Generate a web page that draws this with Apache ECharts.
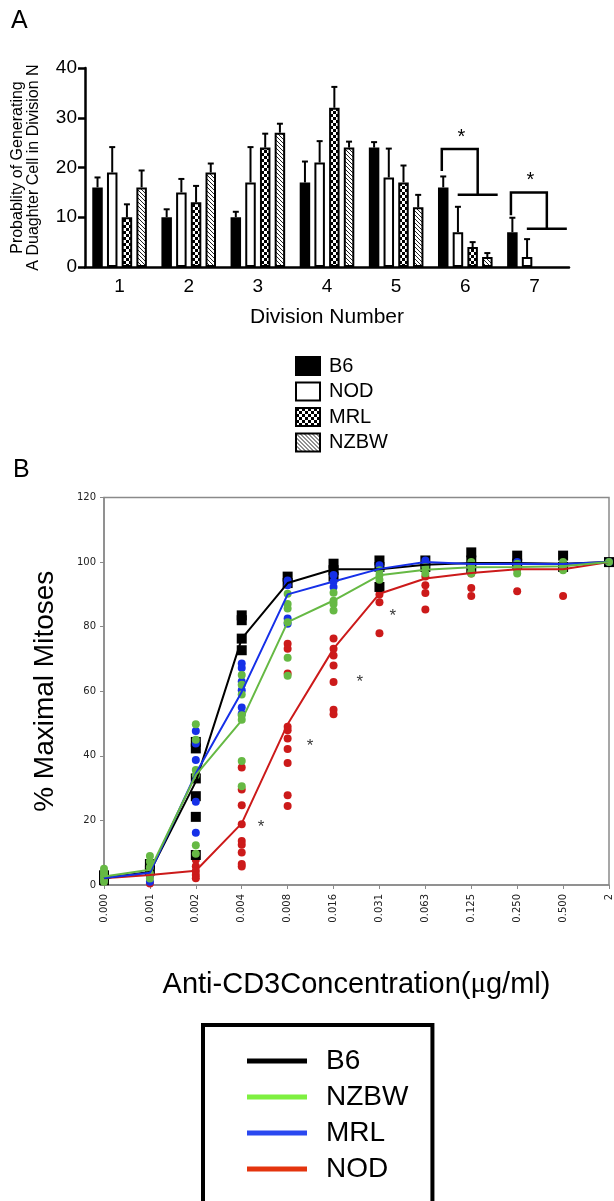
<!DOCTYPE html>
<html>
<head>
<meta charset="utf-8">
<script src="https://cdn.jsdelivr.net/npm/echarts@6/dist/echarts.min.js"></script>
<style>
  html, body { margin: 0; padding: 0; background: #fff; }
  #boxA { position: absolute; left: 0; top: 0; width: 614px; height: 455px; }
  #boxB { position: absolute; left: 0; top: 455px; width: 614px; height: 746px; }
</style>
</head>
<body>
<div id="boxA"></div>
<div id="boxB"></div>
<script>
// ---- panel A data ----
var divisions = ['1', '2', '3', '4', '5', '6', '7'];
var strainsA = ['B6', 'NOD', 'MRL', 'NZBW'];
var meanB6 = [16, 10, 10, 17, 24, 16, 7];
var meanNOD = [19, 15, 17, 21, 18, 7, 2];
var meanMRL = [10, 13, 24, 32, 17, 4, null];
var meanNZBW = [16, 19, 27, 24, 12, 2, null];
// top of the error bars
var errB6 = [18, 11.6, 11.1, 21.2, 25.1, 18.2, 9.9];
var errNOD = [24.1, 17.7, 24.1, 25.3, 23.8, 12.1, 5.6];
var errMRL = [12.6, 16.3, 26.8, 36.2, 20.4, 5.0, null];
var errNZBW = [19.4, 20.8, 28.8, 25.2, 14.5, 2.8, null];
// significance brackets: [division index, left leg start, bracket top, right leg end]
var sigBrackets = [[5, 19.3, 23.7, 14.5], [6, 10.4, 15.0, 7.7]];

// ---- panel B data ----
var concLabels = ['0.000', '0.001', '0.002', '0.004', '0.008', '0.016', '0.031', '0.063', '0.125', '0.250', '0.500', '2'];
var lineB6 = [2.2, 4.0, 32, 76.3, 93.5, 97.8, 97.8, 99.2, 99.7, 99.7, 99.5, 100];
var lineNZBW = [2.6, 4.7, 34, 51, 81.4, 88.1, 95.9, 97.6, 98.4, 98.5, 98.7, 100];
var lineMRL = [2.2, 3.8, 34.5, 59.8, 90, 94, 97.9, 100, 99.4, 99.5, 99.4, 100];
var lineNOD = [2.1, 3.1, 4.4, 19.1, 49.8, 73.2, 90.2, 94.9, 96.6, 97.8, 97.8, 100];
// individual values per concentration
var ptsB6 = [[1.5, 2.5, 3], [4.5, 6.5], [44.3, 42.3, 33, 27.5, 21.1, 9.3], [83.5, 82, 76.3, 72.7],
  [95.5, 93.5], [99.5, 97.5, 95.5], [100.5, 98.5, 92.3], [100.5, 98.5], [103, 100.5, 98],
  [102, 99.5], [102, 98.5], [100]];
var ptsNZBW = [[1, 2, 3, 4, 5], [9, 7.3, 5.5, 3.6, 2], [49.8, 45, 35.6, 34, 12.3, 9.7],
  [65, 62, 59, 52.6, 51.2, 38.4, 30.6], [90.2, 87, 85.6, 81.4, 70.4, 64.8], [90.5, 88, 87, 85],
  [97.5, 96, 94.5], [98.5, 96.5], [100, 98.5, 97, 96.5], [99.5, 98, 96.5], [100, 98.5, 97.5], [100]];
var ptsMRL = [[1.5, 2.5], [1, 3], [47.7, 43.8, 38.7, 25.8, 16.2], [68.6, 67.2, 63, 60.3, 55, 53],
  [94.3, 92.8, 82.5, 80.9], [96, 94, 92.3], [99, 97.5], [100.5, 99], [99.5, 98.5], [100, 99],
  [99.5], [100]];
var ptsNOD = [[1.5, 2.5], [0.5, 3], [7.8, 5.8, 4.3, 3.1, 2.1],
  [36.4, 29.6, 24.7, 18.8, 13.6, 12.5, 10.1, 6.5, 5.7],
  [74.7, 73.2, 65.5, 49, 47.9, 45.4, 42.1, 37.8, 27.8, 24.5],
  [76.3, 73.2, 71.1, 68, 62.9, 54.3, 52.9], [90, 87.6, 78], [95.5, 92.8, 90.4, 85.3],
  [96.5, 92, 89.5], [97.8, 91], [98, 89.5], [100]];
// asterisks next to the NOD curve: [position along axis, value]
var starsB = [[3.42, 18], [4.49, 42.8], [5.57, 62.9], [6.29, 83.2]];

var FONT = "'Liberation Sans', Arial, Helvetica, sans-serif";

// fill patterns for MRL / NZBW
function checkerCanvas() {
    var c = document.createElement('canvas');
    c.width = 6; c.height = 6;
    var g = c.getContext('2d');
    g.fillStyle = '#fff'; g.fillRect(0, 0, 6, 6);
    g.fillStyle = '#000'; g.fillRect(0, 0, 3, 3); g.fillRect(3, 3, 3, 3);
    return c;
}
function hatchCanvas() {
    var c = document.createElement('canvas');
    c.width = 4; c.height = 4;
    var g = c.getContext('2d');
    g.fillStyle = '#fff'; g.fillRect(0, 0, 4, 4);
    g.strokeStyle = '#222'; g.lineWidth = 1;
    g.beginPath();
    g.moveTo(0, 0); g.lineTo(4, 4);
    g.moveTo(-2, 2); g.lineTo(2, 6);
    g.moveTo(2, -2); g.lineTo(6, 2);
    g.stroke();
    return c;
}

function barSeries(name, data, fill) {
    return {
        name: name,
        type: 'bar',
        data: data,
        barWidth: 10.5,
        barGap: '40%',
        itemStyle: { color: fill, borderColor: '#000', borderWidth: 2 }
    };
}

// error bar data: [division, mean, top, slot]
var errData = [];
[[meanB6, errB6], [meanNOD, errNOD], [meanMRL, errMRL], [meanNZBW, errNZBW]].forEach(function (pair, s) {
    pair[0].forEach(function (m, i) {
        if (m != null) errData.push([i, m, pair[1][i], s]);
    });
});

var chartA = echarts.init(document.getElementById('boxA'));
chartA.setOption({
    animation: false,
    title: { text: 'A', left: 6, top: 4, textStyle: { fontSize: 25, fontWeight: 'normal', color: '#000', fontFamily: FONT } },
    legend: {
        orient: 'vertical', left: 290, top: 351, height: 200,
        itemWidth: 24, itemHeight: 18, itemGap: 5.5,
        icon: 'rect', selectedMode: false,
        data: strainsA,
        textStyle: { fontSize: 20, lineHeight: 20, color: '#000', fontFamily: FONT, padding: [0, 0, 0, 4] }
    },
    grid: { left: 85, top: 68, width: 484, height: 199 },
    xAxis: {
        type: 'category',
        data: divisions,
        axisLine: { lineStyle: { color: '#000', width: 2.5 } },
        axisTick: { alignWithLabel: true, length: 6, lineStyle: { color: '#000', width: 2.5 } },
        axisLabel: { fontSize: 19, color: '#000', margin: 10, fontFamily: FONT },
        name: 'Division Number',
        nameLocation: 'middle',
        nameGap: 40,
        nameTextStyle: { fontSize: 21, color: '#000', fontFamily: FONT }
    },
    yAxis: {
        type: 'value', min: 0, max: 40, interval: 10,
        splitLine: { show: false },
        axisLine: { show: true, lineStyle: { color: '#000', width: 2.5 } },
        axisTick: { show: true, length: 7, lineStyle: { color: '#000', width: 2.5 } },
        axisLabel: { fontSize: 19, color: '#000', margin: 8, fontFamily: FONT },
        name: 'Probablity of Generating\nA Duaghter Cell in Division N',
        nameLocation: 'middle',
        nameGap: 43,
        nameTextStyle: { fontSize: 16, lineHeight: 16, color: '#000', fontFamily: FONT }
    },
    series: [
        barSeries('B6', meanB6, '#000'),
        barSeries('NOD', meanNOD, '#fff'),
        barSeries('MRL', meanMRL, { image: checkerCanvas(), repeat: 'repeat' }),
        barSeries('NZBW', meanNZBW, { image: hatchCanvas(), repeat: 'repeat' }),
        {
            type: 'custom',
            data: errData,
            z: 1,
            renderItem: function (params, api) {
                var base = api.coord([api.value(0), api.value(1)]);
                var top = api.coord([api.value(0), api.value(2)]);
                var x = base[0] + (api.value(3) - 1.5) * 14.7;
                var st = { stroke: '#000', lineWidth: 2 };
                return {
                    type: 'group', children: [
                        { type: 'line', shape: { x1: x, y1: base[1], x2: x, y2: top[1] }, style: st },
                        { type: 'line', shape: { x1: x - 3, y1: top[1], x2: x + 3, y2: top[1] }, style: st }
                    ]
                };
            }
        },
        {
            type: 'custom',
            data: sigBrackets,
            renderItem: function (params, api) {
                var c = api.coord([api.value(0), api.value(2)]);
                var x0 = c[0], yTop = c[1];
                var yL = api.coord([api.value(0), api.value(1)])[1];
                var yR = api.coord([api.value(0), api.value(3)])[1];
                var st = { stroke: '#000', lineWidth: 2.5, fill: null };
                return {
                    type: 'group', children: [
                        { type: 'polyline', shape: { points: [[x0 - 23.5, yL], [x0 - 23.5, yTop], [x0 + 12.4, yTop], [x0 + 12.4, yR]] }, style: st },
                        { type: 'line', shape: { x1: x0 - 7.6, y1: yR, x2: x0 + 32.4, y2: yR }, style: st },
                        { type: 'text', style: { text: '*', x: x0 - 4, y: yTop - 2, textAlign: 'center', textVerticalAlign: 'bottom', font: '20px ' + FONT, fill: '#000' } }
                    ]
                };
            }
        }
    ]
});

// ---- panel B ----
function toPoints(lists) {
    var out = [];
    lists.forEach(function (vals, i) {
        vals.forEach(function (v) { out.push([i, v]); });
    });
    return out;
}
var colB6 = '#000000', colNZBW = '#66b944', colMRL = '#1630e8', colNOD = '#cc1a1a';

function pointSeries(name, lists, color, symbol, size) {
    return { name: name, type: 'scatter', data: toPoints(lists), symbol: symbol, symbolSize: size, itemStyle: { color: color, opacity: 1 } };
}
function meanSeries(name, data, color) {
    return { name: name, type: 'line', data: data, symbol: 'none', lineStyle: { color: color, width: 2 }, itemStyle: { color: color } };
}

var chartB = echarts.init(document.getElementById('boxB'));
chartB.setOption({
    animation: false,
    title: { text: 'B', left: 8, top: -2, textStyle: { fontSize: 25, fontWeight: 'normal', color: '#000', fontFamily: FONT } },
    legend: {
        orient: 'vertical', left: 203, top: 570, height: 400,
        borderColor: '#000', borderWidth: 4,
        padding: [22, 24, 60, 44],
        itemWidth: 60, itemHeight: 5, itemGap: 8,
        icon: 'rect', selectedMode: false,
        data: [
            { name: 'B6', itemStyle: { color: '#000' } },
            { name: 'NZBW', itemStyle: { color: '#7ef040' } },
            { name: 'MRL', itemStyle: { color: '#2a48f0' } },
            { name: 'NOD', itemStyle: { color: '#e4340e' } }
        ],
        textStyle: { fontSize: 28, lineHeight: 28, color: '#000', fontFamily: FONT, padding: [0, 0, 0, 14] }
    },
    grid: { left: 104, top: 42.5, width: 507.7, height: 387.5, show: true, borderColor: '#8a8a8a', borderWidth: 1.5 },
    xAxis: [{
        type: 'category',
        data: concLabels,
        boundaryGap: false,
        axisLine: { lineStyle: { color: '#8a8a8a', width: 1.5 } },
        axisTick: { length: 4, lineStyle: { color: '#8a8a8a' } },
        axisLabel: { rotate: 90, fontSize: 10, color: '#222', margin: 9, fontFamily: 'DejaVu Sans', interval: 0 },
        name: 'Anti-CD3Concentration({mu|μ}g/ml)',
        nameLocation: 'middle',
        nameGap: 85,
        nameTextStyle: {
            fontSize: 29, color: '#000', fontFamily: FONT,
            rich: { mu: { fontSize: 29, fontFamily: "'Liberation Serif', serif", color: '#000' } }
        }
    }, {
        type: 'value', min: 0, max: 11, show: false
    }],
    yAxis: {
        type: 'value', min: 0, max: 120, interval: 20,
        splitLine: { show: false },
        axisLine: { show: true, lineStyle: { color: '#8a8a8a', width: 1.5 } },
        axisTick: { show: true, length: 4, lineStyle: { color: '#8a8a8a' } },
        axisLabel: { fontSize: 10, color: '#222', margin: 8, fontFamily: 'DejaVu Sans' },
        name: '% Maximal Mitoses',
        nameLocation: 'middle',
        nameGap: 45,
        nameTextStyle: { fontSize: 28, color: '#000', fontFamily: FONT }
    },
    series: [
        pointSeries('NOD', ptsNOD, colNOD, 'circle', 8),
        meanSeries('NOD', lineNOD, colNOD),
        pointSeries('B6', ptsB6, colB6, 'rect', 10),
        meanSeries('B6', lineB6, colB6),
        pointSeries('MRL', ptsMRL, colMRL, 'circle', 8),
        meanSeries('MRL', lineMRL, colMRL),
        pointSeries('NZBW', ptsNZBW, colNZBW, 'circle', 8),
        meanSeries('NZBW', lineNZBW, colNZBW),
        {
            type: 'scatter', xAxisIndex: 1, data: starsB, symbolSize: 1,
            itemStyle: { color: 'rgba(0,0,0,0)' },
            label: { show: true, position: 'inside', formatter: '*', fontSize: 17, color: '#000', fontFamily: FONT }
        }
    ]
});
</script>
</body>
</html>
